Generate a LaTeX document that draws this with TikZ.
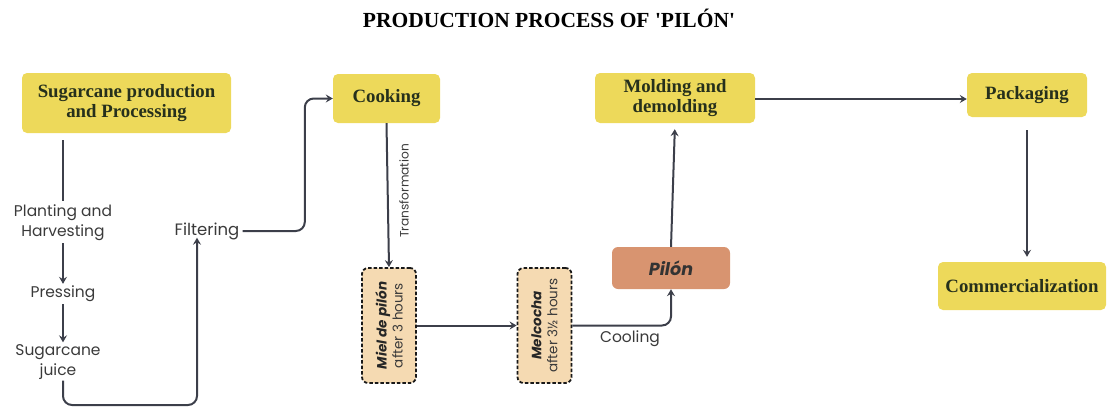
\documentclass[tikz,border=0pt]{standalone}
\usepackage{fontspec}
\setmainfont{Liberation Serif}
\newfontfamily\tfont[Ligatures=TeXOff]{Liberation Serif}
\newfontfamily\pop{Poppins}
\usetikzlibrary{arrows.meta,calc}
\definecolor{boxyellow}{HTML}{EDD95A}
\definecolor{boxtext}{HTML}{26301C}
\definecolor{linecol}{HTML}{3C3F4A}
\definecolor{pilonfill}{HTML}{D89470}
\definecolor{dashfill}{HTML}{F5DAB2}
\definecolor{sanstext}{HTML}{3A3A3A}
\tikzset{
  ybox/.style={fill=boxyellow, rounded corners=5pt, draw=none, align=center, text=boxtext,
    font=\fontsize{18.8}{20.5}\selectfont\bfseries, inner sep=0pt},
  dbox/.style={fill=dashfill, draw=black!90, dash pattern=on 3.5pt off 2pt, line width=1.8pt, rounded corners=6pt,
    minimum width=54pt, minimum height=115pt, inner sep=0pt, align=center},
  rtxt/.style={rotate=90, align=center, font=\pop\fontsize{13.5}{16}\selectfont, text=sanstext, inner sep=0pt},
  lbl/.style={font=\pop\fontsize{15.5}{20}\selectfont, text=sanstext, align=center, inner sep=1pt},
  conn/.style={draw=linecol, line width=2pt},
  arr/.style={conn, -{Stealth[length=7pt,width=8pt,inset=2.5pt]}},
}
\begin{document}
\begin{tikzpicture}[x=1pt,y=-1pt]
\useasboundingbox (0,0) rectangle (1109,407);
% title
\node[font=\tfont\fontsize{21.5}{23}\selectfont\bfseries] (title) at (549,18) {PRODUCTION PROCESS OF 'PILÓN'};
% main boxes
\node[ybox, minimum width=209pt, minimum height=60pt] (sug) at (126.5,103) {Sugarcane production\\and Processing};
\node[ybox, minimum width=107pt, minimum height=49pt] (cook) at (386.5,98.5) {Cooking};
\node[ybox, minimum width=160pt, minimum height=50pt] (mold) at (675,98) {Molding and\\demolding};
\node[ybox, minimum width=120pt, minimum height=44pt] (pack) at (1027,95) {Packaging};
\node[ybox, minimum width=168pt, minimum height=48pt] (comm) at (1022,286) {Commercialization};
\node[fill=pilonfill, rounded corners=6pt, minimum width=118pt, minimum height=42pt, inner sep=0pt,
  font=\pop\fontsize{17.5}{19}\selectfont\bfseries\itshape, text=black!80] (pilon) at (671,268) {Pilón};
\node[dbox] (miel) at (389,325.5) {};
\node[rtxt] (mieltxt) at (miel.center)
  {{\bfseries\itshape\color{black!85}Miel de pilón}\\after 3 hours};
\node[dbox] (melc) at (544.5,325.5) {};
\node[rtxt] (melctxt) at (melc.center)
  {{\bfseries\itshape\color{black!85}Melcocha}\\after 3½ hours};
% labels
\node[lbl] (plant) at (63,223) {Planting and\\Harvesting};
\node[lbl] (press) at (63,294) {Pressing};
\node[lbl] (juice) at (58,362) {Sugarcane\\juice};
\node[lbl, font=\pop\fontsize{16.5}{20}\selectfont] (filt) at (207,231) {Filtering};
\node[lbl, font=\pop\fontsize{12.2}{13}\selectfont, rotate=90] (trans) at (404,191) {Transformation};
\node[lbl] (cool) at (630,339) {Cooling};
% connectors
\coordinate (low) at (0,405);
\coordinate (fx) at ([xshift=-10pt,yshift=3pt]filt.south);
\coordinate (c1) at ([xshift=-28pt]cook.west);
\draw[conn, shorten <=7pt, shorten >=3pt] (sug.south -| press.north) -- (plant.north);
\draw[arr, shorten <=1pt, shorten >=1pt] (plant.south) -- (press.north);
\draw[arr, shorten <=1pt, shorten >=1pt] (press.south) -- (juice.north -| press.south);
\draw[arr, rounded corners=9pt] (juice.south -| press.south) |- (low -| fx) -- (fx);
\draw[arr, rounded corners=9pt, shorten <=2pt] (filt.east) -| (c1) -- (cook.west);
\draw[arr] (cook.south) -- (miel.north);
\draw[arr] (miel.east) -- (melc.west);
\draw[arr, rounded corners=9pt] (melc.east) -| (pilon.south);
\draw[arr, shorten >=6pt] (pilon.north) -- (mold.south);
\draw[arr] ([yshift=-1pt]mold.east) -- ([yshift=-1pt]mold.east -| pack.west);
\draw[arr, shorten <=13pt, shorten >=5pt] (pack.south) -- (pack.south |- comm.north);
\end{tikzpicture}
\end{document}
